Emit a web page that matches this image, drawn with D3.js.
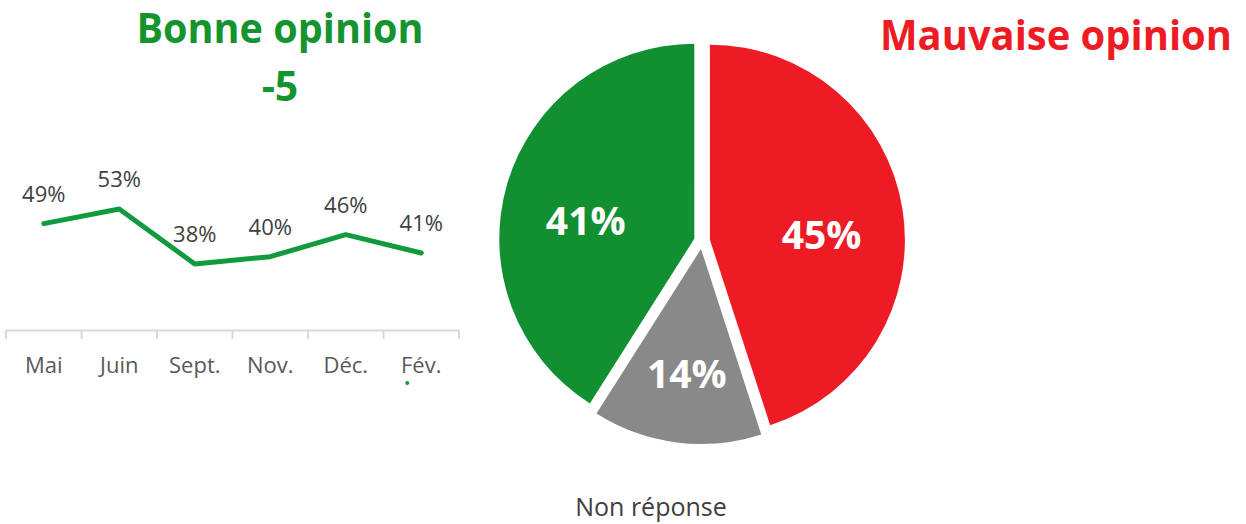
<!DOCTYPE html>
<html>
<head>
<meta charset="utf-8">
<script src="https://d3js.org/d3.v7.min.js"></script>
<style>
  body { margin: 0; background: #fff; }
  svg { display: block; }
  text { font-family: "Open Sans", sans-serif; }
</style>
</head>
<body>
<svg id="chart" width="1246" height="524"></svg>
<script>
// line: bonne opinion over time
var months = ["Mai", "Juin", "Sept.", "Nov.", "Déc.", "Fév."];
var bonne = [0.49, 0.53, 0.38, 0.40, 0.46, 0.41];

// pie: latest wave
var pieLabels = ["Mauvaise opinion", "Non réponse", "Bonne opinion"];
var pieValues = [0.45, 0.14, 0.41];
var pieColors = ["#ed1c24", "#898989", "#118f31"];

var titleGood = "Bonne opinion";
var titleGoodDelta = "-5";
var titleBad = "Mauvaise opinion";
var titleNone = "Non réponse";

var svg = d3.select("#chart");
var pct = d3.format(".0%");

// ---- line chart ----
var x = d3.scaleBand(months, [6, 459]);
var y = d3.scaleLinear([0.2, 0.6], [330, 183.3]);

var xAxis = svg.append("g")
    .attr("transform", "translate(0,330)")
    .call(d3.axisBottom(x).tickSize(0).tickPadding(27));
xAxis.select(".domain").attr("stroke", "#d9d9d9").attr("stroke-width", 2);
xAxis.selectAll("text")
    .attr("fill", "#595959")
    .style("font-size", "22px")
    .style("font-family", "Open Sans");

// band boundary ticks
svg.append("g").selectAll("line")
    .data(months.concat([null]))
    .join("line")
    .attr("x1", d => d ? x(d) : x.range()[1])
    .attr("x2", d => d ? x(d) : x.range()[1])
    .attr("y1", 330).attr("y2", 339)
    .attr("stroke", "#d9d9d9").attr("stroke-width", 2);

var line = d3.line()
    .x((d, i) => x(months[i]) + x.bandwidth() / 2)
    .y(d => y(d));

svg.append("path")
    .datum(bonne)
    .attr("d", line)
    .attr("fill", "none")
    .attr("stroke", "#129a3e")
    .attr("stroke-width", 5)
    .attr("stroke-linejoin", "round")
    .attr("stroke-linecap", "round");

svg.append("g").selectAll("text")
    .data(bonne)
    .join("text")
    .attr("x", (d, i) => x(months[i]) + x.bandwidth() / 2)
    .attr("y", d => y(d) - 22)
    .attr("text-anchor", "middle")
    .attr("fill", "#404040")
    .style("font-size", "22px")
    .text(d => pct(d));

// small marker under last label
svg.append("circle")
    .attr("cx", x(months[5]) + x.bandwidth() / 2 - 14)
    .attr("cy", 383)
    .attr("r", 2)
    .attr("fill", "#129a3e");

// titles
svg.append("text")
    .attr("x", 280).attr("y", 43)
    .attr("text-anchor", "middle")
    .attr("fill", "#14932f")
    .attr("font-weight", "bold")
    .attr("textLength", 287).attr("lengthAdjust", "spacingAndGlyphs")
    .style("font-size", "41px")
    .text(titleGood);
svg.append("text")
    .attr("x", 280).attr("y", 101)
    .attr("text-anchor", "middle")
    .attr("fill", "#14932f")
    .attr("font-weight", "bold")
    .style("font-size", "41px")
    .text(titleGoodDelta);
svg.append("text")
    .attr("x", 1056).attr("y", 50)
    .attr("text-anchor", "middle")
    .attr("fill", "#ed1c24")
    .attr("font-weight", "bold")
    .attr("textLength", 352).attr("lengthAdjust", "spacingAndGlyphs")
    .style("font-size", "41px")
    .text(titleBad);
svg.append("text")
    .attr("x", 651).attr("y", 516)
    .attr("text-anchor", "middle")
    .attr("fill", "#404040")
    .style("font-size", "25px")
    .text(titleNone);

// ---- pie ----
var R = 195, explode = 8;
var pie = d3.pie().sort(null)(pieValues);
var arc = d3.arc().innerRadius(0).outerRadius(R);
var labelArc = d3.arc().innerRadius(R * 0.58).outerRadius(R * 0.58);

var g = svg.append("g").attr("transform", "translate(702,241)");

function shift(d) {
  var a = (d.startAngle + d.endAngle) / 2;
  return [Math.sin(a) * explode, -Math.cos(a) * explode];
}

g.selectAll("path")
    .data(pie)
    .join("path")
    .attr("d", arc)
    .attr("transform", d => "translate(" + shift(d) + ")")
    .attr("fill", (d, i) => pieColors[i]);

g.selectAll("text")
    .data(pie)
    .join("text")
    .attr("transform", d => {
      var c = labelArc.centroid(d), s = shift(d);
      return "translate(" + (c[0] + s[0]) + "," + (c[1] + s[1]) + ")";
    })
    .attr("dy", "0.7em")
    .attr("text-anchor", "middle")
    .attr("fill", "#fff")
    .attr("font-weight", "bold")
    .style("font-size", "39px")
    .text(d => pct(d.data));
</script>
</body>
</html>
